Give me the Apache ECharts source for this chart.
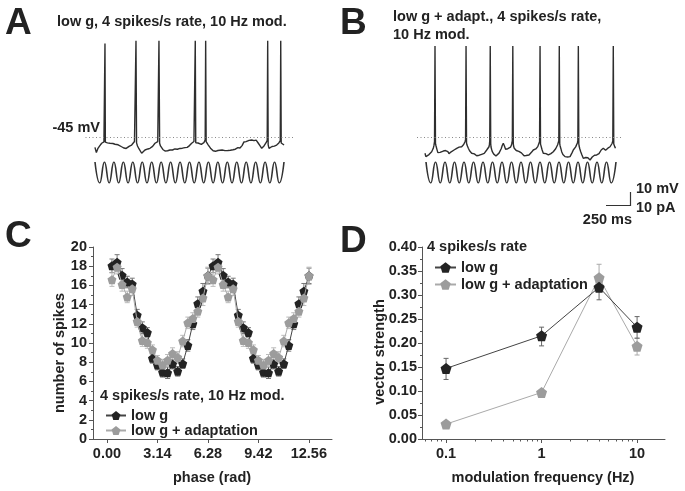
<!DOCTYPE html>
<html><head><meta charset="utf-8">
<script src="https://cdn.jsdelivr.net/npm/echarts@6/dist/echarts.min.js"></script>
<style>html,body{margin:0;padding:0;background:#fff}#c{width:685px;height:491px}</style>
</head><body><div id="c"></div>
<script>
const FONT = '"Liberation Sans", Arial, Helvetica, sans-serif';
const TXT = '#222';
const AX = '#555';

// ---- Panel A: membrane potential trace (time ms, mV) ----
const traceA = [[0,-53],[15,-57],[30,-54],[50,-51.8],[60,-50.6],[71,-49.8],[84,-50.4],[95,-48.8],[102,-47.5],
[110,-49],[122,-50.4],[132,-49.5],[145,-50.6],[159,-49.8],[175,-50.9],[190,-50.0],[201,-51.2],[212,-50.6],[228,-51.8],[245,-51.0],[262,-52.3],[282,-52.5],[298,-54.0],[308,-53.5],[317,-55.0],[330,-53.8],[349,-53.5],[365,-52.0],[378,-52.6],[388,-51.2],[402,-50.5],[418,-48.5],[428,-47.0],
[440,-49.5],[450,-51.9],[465,-54.0],[480,-55.5],[494,-57.5],[505,-56.0],[515,-56.6],[529,-55.0],[545,-55.4],[560,-54.2],[570,-54.8],[582,-53.7],[595,-52.8],[610,-52.2],[622,-51.0],[635,-49.8],[648,-50.2],[664,-48.5],[672,-47.0],
[684,-49.8],[693,-51.9],[705,-53.0],[718,-54.6],[730,-54.4],[741,-55.8],[755,-54.8],[768,-55.6],[780,-54.6],[794,-55.0],[808,-54.0],[820,-55.0],[835,-53.8],[846,-54.2],[860,-53.4],[872,-54.4],[885,-53.2],[899,-53.8],[912,-52.8],[925,-53.6],[940,-52.6],[952,-53.2],[965,-52.2],[976,-53.0],[987,-52.5],[1000,-51.6],[1012,-51.0],[1023,-49.8],[1035,-50.2],[1047,-48.5],[1056,-47.2],
[1066,-49.5],[1079,-50.4],[1090,-49.6],[1100,-50.5],[1111,-49.8],[1125,-50.6],[1135,-49.6],[1143,-50.0],[1152,-49.4],[1160,-48.5],[1166,-47.2],
[1176,-48.6],[1185,-49.6],[1199,-51.2],[1210,-52.5],[1222,-53.6],[1235,-55.0],[1250,-55.6],[1262,-55.0],[1275,-56.0],[1288,-56.3],[1300,-55.4],[1312,-56.0],[1322,-55.2],[1333,-55.8],[1345,-55.0],[1358,-55.9],[1375,-55.5],[1390,-56.2],[1405,-55.4],[1418,-56.0],[1432,-55.2],[1446,-55.8],[1460,-54.8],[1472,-55.4],[1485,-54.4],[1499,-54.2],[1512,-53.2],[1522,-54.0],[1534,-53.5],[1545,-52.4],[1556,-51.6],[1566,-50.4],[1576,-48.8],[1587,-47.3],[1598,-48.6],[1608,-47.8],[1619,-48.8],[1630,-47.6],[1645,-48.4],[1658,-47.3],[1670,-46.6],[1682,-47.8],[1693,-46.9],[1705,-47.4],[1716,-48.2],[1728,-49.8],[1745,-51.6],[1764,-53.7],[1776,-52.4],[1788,-51.9],[1800,-50.6],[1810,-49.4],[1822,-47.6],
[1832,-51.0],[1841,-53.7],[1852,-52.6],[1862,-53.0],[1873,-52.3],[1885,-51.4],[1897,-52.0],[1910,-51.0],[1922,-51.2],[1935,-50.4],[1945,-49.6],[1960,-47.8],
[1970,-49.6],[1979,-50.4],[1990,-50.8],[2000,-51.2]];
const spikesA = [[106,27],[434,29],[677,29],[1061,29],[1171,29],[1827,29],[1965,29]];
// stimulus extremes every 50 ms (10 Hz sinusoid, normalised)
const stimA = [1,-1,1,-1,1,-1,1,-1,1,-1,1,-1,1,-1,1,-1,1,-1,1,-1,1,-1,1,-1,1,-1,1,-1,1,-1,1,-1,1,-1,1,-1,1,-1,1,-1,1];

// ---- Panel B ----
const traceB = [[0,-57.5],[9,-60.1],[18,-60.6],[30,-58.8],[42,-58.5],[55,-57.4],[70,-56.3],[80,-55.0],[87,-53.7],[94,-51.5],[100,-48.5],
[110,-50.0],[116,-51.9],[125,-54.5],[135,-57.0],[147,-58.3],[158,-56.8],[168,-57.8],[179,-57.3],[192,-55.8],[205,-56.6],[216,-55.4],[228,-55.0],[240,-56.2],[252,-57.8],[263,-57.5],[275,-56.4],[285,-57.0],[294,-56.2],[305,-55.0],[318,-55.6],[333,-53.7],[345,-54.2],[358,-52.8],[372,-53.4],[385,-52.5],[398,-51.8],[406,-50.8],[413,-49.8],[420,-48.6],[426,-47.0],
[436,-49.6],[441,-51.2],[455,-53.7],[468,-55.6],[480,-56.6],[490,-57.5],[505,-58.4],[518,-58.0],[530,-59.2],[543,-59.4],[556,-58.4],[570,-59.0],[582,-57.6],[595,-58.3],[608,-57.2],[622,-57.6],[637,-56.3],[648,-55.0],[660,-54.0],[672,-52.5],[677,-50.5],[680,-47.5],
[690,-50.0],[693,-52.7],[700,-54.6],[707,-56.3],[720,-58.0],[735,-59.0],[745,-59.6],[753,-60.1],[765,-58.4],[777,-57.4],[788,-56.3],[800,-54.0],[811,-51.5],[822,-49.8],[834,-52.0],[846,-54.4],[858,-55.0],[870,-54.0],[880,-54.6],[887,-53.8],[898,-52.8],[908,-51.2],[913,-49.6],[917,-47.5],
[927,-50.0],[930,-51.9],[937,-53.6],[945,-55.0],[958,-55.4],[970,-56.8],[985,-56.0],[998,-56.3],[1012,-57.2],[1025,-58.6],[1040,-59.4],[1050,-60.1],[1062,-59.2],[1075,-59.6],[1092,-58.8],[1105,-57.4],[1120,-56.6],[1137,-55.0],[1150,-54.6],[1163,-54.2],[1173,-53.7],[1184,-52.4],[1192,-51.0],[1203,-48.5],
[1213,-50.5],[1218,-51.9],[1230,-55.0],[1242,-57.5],[1256,-58.2],[1270,-57.8],[1283,-59.0],[1295,-58.8],[1308,-57.6],[1322,-57.8],[1335,-56.6],[1347,-56.3],[1360,-55.0],[1372,-54.0],[1383,-52.5],[1393,-51.0],[1400,-49.6],[1405,-47.8],
[1415,-50.2],[1419,-51.9],[1427,-54.0],[1435,-56.3],[1448,-58.4],[1460,-59.0],[1470,-60.1],[1485,-59.4],[1498,-60.4],[1510,-59.6],[1523,-60.1],[1535,-58.6],[1546,-56.8],[1557,-55.0],[1570,-53.8],[1582,-52.6],[1593,-51.2],[1600,-49.6],[1605,-47.8],
[1615,-50.2],[1618,-51.9],[1626,-54.2],[1635,-56.3],[1648,-58.8],[1662,-61.4],[1675,-60.2],[1688,-60.8],[1698,-60.1],[1710,-61.0],[1722,-61.8],[1733,-62.7],[1745,-61.4],[1756,-60.4],[1767,-60.1],[1780,-59.0],[1792,-59.6],[1803,-58.8],[1815,-57.6],[1827,-57.8],[1838,-56.3],[1850,-55.0],[1862,-54.6],[1872,-53.7],[1885,-54.2],[1896,-55.2],[1908,-55.0],[1920,-53.6],[1932,-53.2],[1943,-52.5],[1955,-51.8],[1964,-50.0],[1972,-48.0],
[1982,-50.4],[1986,-51.9],[1992,-52.4],[2000,-53.7]];
const spikesB = [[105,25],[431,25],[685,25],[922,25],[1208,25],[1410,25],[1610,25],[1977,25]];
const stimB = [1,-1,1,-1,1,-1,1,-1,1,-1,1,-1,1,-1,1,-1,1,-1,1,-1,1,-1,1,-1,1,-1,1,-1,1,-1,1,-1,1,-1,1,-1,1,-1,1,-1,1];
const thresholdMv = -45;

// ---- Panel C ----
const phaseC = [0.31,0.63,0.94,1.26,1.57,1.88,2.20,2.51,2.83,3.14,3.46,3.77,4.08,4.40,4.71,5.03,5.34,5.65,5.97,6.28,6.60,6.91,7.23,7.54,7.85,8.17,8.48,8.80,9.11,9.42,9.74,10.05,10.37,10.68,11.00,11.31,11.62,11.94,12.25,12.57];
const lowgC = [18.05,18.4,17.05,16.35,16.15,12.9,11.6,11.1,8.4,7.7,6.95,6.9,7.8,7.05,7.85,9.75,12.0,14.1,15.4,17.0, 18.05,18.4,17.05,16.35,16.15,12.9,11.6,11.1,8.4,7.7,6.95,6.9,7.8,7.05,7.85,9.75,12.0,14.1,15.4,17.0];
const lowgErrC = [0.7,0.8,0.7,0.6,0.6,0.6,0.6,0.5,0.5,0.5,0.5,0.6,0.5,0.5,0.5,0.6,0.6,0.7,0.8,0.8, 0.7,0.8,0.7,0.6,0.6,0.6,0.6,0.5,0.5,0.5,0.5,0.6,0.5,0.5,0.5,0.6,0.6,0.7,0.8,0.8];
const adaptC = [16.6,17.9,16.1,14.8,15.65,12.25,10.25,10.05,9.3,8.2,7.7,8.2,8.9,8.5,10.2,12.1,12.55,13.3,14.7,17.0, 16.6,17.9,16.1,14.8,15.65,12.25,10.25,10.05,9.3,8.2,7.7,8.2,8.9,8.5,10.2,12.1,12.55,13.3,14.7,17.0];
const adaptErrC = [0.7,0.7,0.7,0.6,0.7,0.6,0.6,0.6,0.5,0.5,0.6,0.6,0.6,0.6,0.6,0.6,0.6,0.6,0.8,0.9, 0.7,0.7,0.7,0.6,0.7,0.6,0.6,0.6,0.5,0.5,0.6,0.6,0.6,0.6,0.6,0.6,0.6,0.6,0.8,0.9];
const phaseTicks = [0, 3.14, 6.28, 9.42, 12.56];

// ---- Panel D ----
const freqD = [0.1, 1, 4, 10];
const lowgD = [0.147, 0.215, 0.316, 0.233];
const lowgLoD = [0.124, 0.194, 0.290, 0.210];
const lowgHiD = [0.168, 0.233, 0.330, 0.255];
const adaptD = [0.031, 0.097, 0.336, 0.193];
const adaptLoD = [0.027, 0.093, 0.310, 0.175];
const adaptHiD = [0.035, 0.101, 0.364, 0.210];
const freqTicks = [0.1, 1, 10];
const freqMinorTicks = [0.06,0.07,0.08,0.09,0.2,0.3,0.4,0.5,0.6,0.7,0.8,0.9,2,3,4,5,6,7,8,9];

const PENT = 'path://M0,-1 L0.951,-0.309 L0.588,0.809 L-0.588,0.809 L-0.951,-0.309 Z';
const BLACK = '#232323', GRAY = '#9c9c9c';

function mergeTrace(base, spikes){
  return base.concat(spikes).sort((a,b)=>a[0]-b[0]);
}
function stimData(arr){ return arr.map((v,i)=>[i*50, v]); }
function errRender(color, cap){
  return function(params, api){
    const x = api.value(0), lo = api.value(1), hi = api.value(2);
    const a = api.coord([x, hi]), b = api.coord([x, lo]);
    const st = {stroke: color, lineWidth: 1};
    return {type:'group', children:[
      {type:'line', shape:{x1:a[0],y1:a[1],x2:b[0],y2:b[1]}, style:st},
      {type:'line', shape:{x1:a[0]-cap,y1:a[1],x2:a[0]+cap,y2:a[1]}, style:st},
      {type:'line', shape:{x1:b[0]-cap,y1:b[1],x2:b[0]+cap,y2:b[1]}, style:st}
    ]};
  };
}
const lab = {color: TXT, fontWeight: 'bold', fontSize: 14.5, fontFamily: FONT};
const hidden = {show:false};
function hiddenAxis(gi, min, max){
  return {type:'value', gridIndex: gi, min, max, axisLine:hidden, axisTick:hidden, axisLabel:hidden, splitLine:hidden};
}
const axLine = {show:true, onZero:false, lineStyle:{color:AX, width:1}};
const axTick = {show:true, inside:false, length:4, lineStyle:{color:AX, width:1}};
const BIG = 'bold 37px ' + FONT;

const option = {
  animation: false,
  backgroundColor: '#fff',
  grid: [
    {left:85.5, top:39.5, width:208, height:123.5, outerBoundsMode:'none'}, // 0 A trace
    {left:95, top:162, width:189, height:21, outerBoundsMode:'none'},        // 1 A stim
    {left:417, top:39.5, width:206, height:123.5, outerBoundsMode:'none'},   // 2 B trace
    {left:426, top:162, width:190, height:21, outerBoundsMode:'none'},       // 3 B stim
    {left:93, top:247, width:239, height:192, outerBoundsMode:'none'},       // 4 C
    {left:422, top:247, width:243, height:192, outerBoundsMode:'none'}       // 5 D
  ],
  xAxis: [
    hiddenAxis(0, -100, 2100),
    hiddenAxis(1, 0, 2000),
    hiddenAxis(2, -84, 2079),
    hiddenAxis(3, 0, 2000),
    {type:'value', gridIndex:4, min:-0.87, max:14, axisLine:axLine, splitLine:hidden,
      axisTick:Object.assign({customValues: phaseTicks}, axTick),
      axisLabel:Object.assign({customValues: phaseTicks, margin:7, formatter: v => v.toFixed(2)}, lab)},
    {type:'log', logBase:10, gridIndex:5, min:0.056, max:19.6, axisLine:axLine, splitLine:hidden, minorTick:hidden,
      axisTick:Object.assign({customValues: freqTicks}, axTick),
      axisLabel:Object.assign({customValues: freqTicks, margin:7, formatter: v => String(+v.toPrecision(2))}, lab)},
    {type:'log', logBase:10, gridIndex:5, min:0.056, max:19.6, position:'bottom', axisLine:hidden, splitLine:hidden, minorTick:hidden,
      axisTick:{show:true, inside:false, length:2.5, customValues: freqMinorTicks, lineStyle:{color:AX, width:1}},
      axisLabel:{show:false}}
  ],
  yAxis: [
    hiddenAxis(0, -65, 30),
    hiddenAxis(1, -1, 1),
    hiddenAxis(2, -65, 30),
    hiddenAxis(3, -1, 1),
    {type:'value', gridIndex:4, min:0, max:20, interval:2, axisLine:axLine, axisTick:axTick, splitLine:hidden,
      minorTick:{show:true, splitNumber:2, length:2, lineStyle:{color:AX}},
      axisLabel:Object.assign({margin:6}, lab)},
    {type:'value', gridIndex:5, min:0, max:0.4, interval:0.05, axisLine:axLine, axisTick:axTick, splitLine:hidden,
      minorTick:{show:true, splitNumber:2, length:2, lineStyle:{color:AX}},
      axisLabel:Object.assign({margin:5, formatter: v => v.toFixed(2)}, lab)}
  ],
  legend: [
    {left:100, top:403, orient:'vertical', itemWidth:20, itemHeight:11, itemGap:0, selectedMode:false,
      data:['low g','low g + adaptation'], textStyle:lab},
    {left:429, top:255, orient:'vertical', itemWidth:21, itemHeight:13, itemGap:2, selectedMode:false,
      data:['low g','low g + adaptation'], textStyle:lab}
  ],
  series: [
    // A
    {type:'line', xAxisIndex:0, yAxisIndex:0, data: mergeTrace(traceA, spikesA), showSymbol:false, symbol:'none',
      lineStyle:{color:'#2e2e2e', width:1.4}, silent:true,
      markLine:{silent:true, symbol:'none', label:{show:false}, lineStyle:{type:[1,2.5], color:'#888', width:1}, data:[{yAxis: thresholdMv}]}},
    {type:'line', xAxisIndex:1, yAxisIndex:1, data: stimData(stimA), smooth:true, symbol:'none', lineStyle:{color:'#333', width:1.6}, silent:true},
    // B
    {type:'line', xAxisIndex:2, yAxisIndex:2, data: mergeTrace(traceB, spikesB), showSymbol:false, symbol:'none',
      lineStyle:{color:'#2e2e2e', width:1.4}, silent:true,
      markLine:{silent:true, symbol:'none', label:{show:false}, lineStyle:{type:[1,2.5], color:'#888', width:1}, data:[{yAxis: thresholdMv}]}},
    {type:'line', xAxisIndex:3, yAxisIndex:3, data: stimData(stimB), smooth:true, symbol:'none', lineStyle:{color:'#333', width:1.6}, silent:true},
    // C error bars
    {type:'custom', name:'errC1', xAxisIndex:4, yAxisIndex:4, renderItem: errRender('#777', 2.5),
      data: phaseC.map((p,i)=>[p, lowgC[i]-lowgErrC[i], lowgC[i]+lowgErrC[i]]), encode:{x:0, y:[1,2]}, silent:true, z:1},
    {type:'custom', name:'errC2', xAxisIndex:4, yAxisIndex:4, renderItem: errRender('#bbb', 2.5),
      data: phaseC.map((p,i)=>[p, adaptC[i]-adaptErrC[i], adaptC[i]+adaptErrC[i]]), encode:{x:0, y:[1,2]}, silent:true, z:1},
    // C lines
    {type:'line', name:'low g', xAxisIndex:4, yAxisIndex:4, data: phaseC.map((p,i)=>[p, lowgC[i]]),
      symbol:PENT, symbolSize:9, itemStyle:{color:BLACK}, lineStyle:{color:'#444', width:1}, z:3},
    {type:'line', name:'low g + adaptation', xAxisIndex:4, yAxisIndex:4, data: phaseC.map((p,i)=>[p, adaptC[i]]),
      symbol:PENT, symbolSize:9, itemStyle:{color:GRAY}, lineStyle:{color:'#aaa', width:1}, z:4},
    // D error bars
    {type:'custom', name:'errD2', xAxisIndex:5, yAxisIndex:5, renderItem: errRender('#aaa', 2.5),
      data: freqD.map((f,i)=>[f, adaptLoD[i], adaptHiD[i]]), encode:{x:0, y:[1,2]}, silent:true, z:1},
    {type:'custom', name:'errD1', xAxisIndex:5, yAxisIndex:5, renderItem: errRender('#666', 2.5),
      data: freqD.map((f,i)=>[f, lowgLoD[i], lowgHiD[i]]), encode:{x:0, y:[1,2]}, silent:true, z:1},
    {type:'line', name:'low g + adaptation', xAxisIndex:5, yAxisIndex:5, data: freqD.map((f,i)=>[f, adaptD[i]]),
      symbol:PENT, symbolSize:11, itemStyle:{color:GRAY}, lineStyle:{color:'#aaa', width:1}, z:3},
    {type:'line', name:'low g', xAxisIndex:5, yAxisIndex:5, data: freqD.map((f,i)=>[f, lowgD[i]]),
      symbol:PENT, symbolSize:11, itemStyle:{color:BLACK}, lineStyle:{color:'#444', width:1}, z:4}
  ],
  graphic: [
    {type:'text', x:5, y:24, style:{text:'A', fill:'#222', font:BIG, verticalAlign:'middle'}},
    {type:'text', x:340, y:23.5, style:{text:'B', fill:'#222', font:BIG, verticalAlign:'middle'}},
    {type:'text', x:5, y:236.5, style:{text:'C', fill:'#222', font:BIG, verticalAlign:'middle'}},
    {type:'text', x:340, y:241.5, style:{text:'D', fill:'#222', font:BIG, verticalAlign:'middle'}},
    {type:'text', x:57, y:22, style:{text:'low g, 4 spikes/s rate, 10 Hz mod.', fill:TXT, font:'bold 14.5px ' + FONT, verticalAlign:'middle'}},
    {type:'text', x:393, y:17, style:{text:'low g + adapt., 4 spikes/s rate,', fill:TXT, font:'bold 14.5px ' + FONT, verticalAlign:'middle'}},
    {type:'text', x:393, y:35, style:{text:'10 Hz mod.', fill:TXT, font:'bold 14.5px ' + FONT, verticalAlign:'middle'}},
    {type:'text', x:100, y:128, style:{text:'-45 mV', fill:TXT, font:'bold 14.5px ' + FONT, align:'right', verticalAlign:'middle'}},
    {type:'polyline', shape:{points:[[630.5,192],[630.5,205.5],[606,205.5]]}, style:{stroke:'#333', lineWidth:1.2, fill:null}},
    {type:'text', x:636, y:189, style:{text:'10 mV', fill:TXT, font:'bold 14.5px ' + FONT, verticalAlign:'middle'}},
    {type:'text', x:636, y:207.5, style:{text:'10 pA', fill:TXT, font:'bold 14.5px ' + FONT, verticalAlign:'middle'}},
    {type:'text', x:632, y:219.5, style:{text:'250 ms', fill:TXT, font:'bold 14.5px ' + FONT, align:'right', verticalAlign:'middle'}},
    {type:'text', x:100, y:396, style:{text:'4 spikes/s rate, 10 Hz mod.', fill:TXT, font:'bold 14.5px ' + FONT, verticalAlign:'middle'}},
    {type:'text', x:427, y:247, style:{text:'4 spikes/s rate', fill:TXT, font:'bold 14.5px ' + FONT, verticalAlign:'middle'}},
    {type:'text', x:60, y:353, rotation:Math.PI/2, style:{text:'number of spikes', fill:TXT, font:'bold 14.5px ' + FONT, align:'center', verticalAlign:'middle'}},
    {type:'text', x:212, y:477.5, style:{text:'phase (rad)', fill:TXT, font:'bold 14.5px ' + FONT, align:'center', verticalAlign:'middle'}},
    {type:'text', x:380, y:352, rotation:Math.PI/2, style:{text:'vector strength', fill:TXT, font:'bold 14.5px ' + FONT, align:'center', verticalAlign:'middle'}},
    {type:'text', x:543, y:477.5, style:{text:'modulation frequency (Hz)', fill:TXT, font:'bold 14.5px ' + FONT, align:'center', verticalAlign:'middle'}}
  ]
};
const chart = echarts.init(document.getElementById('c'), null, {renderer:'canvas'});
chart.setOption(option);
</script>
</body></html>
